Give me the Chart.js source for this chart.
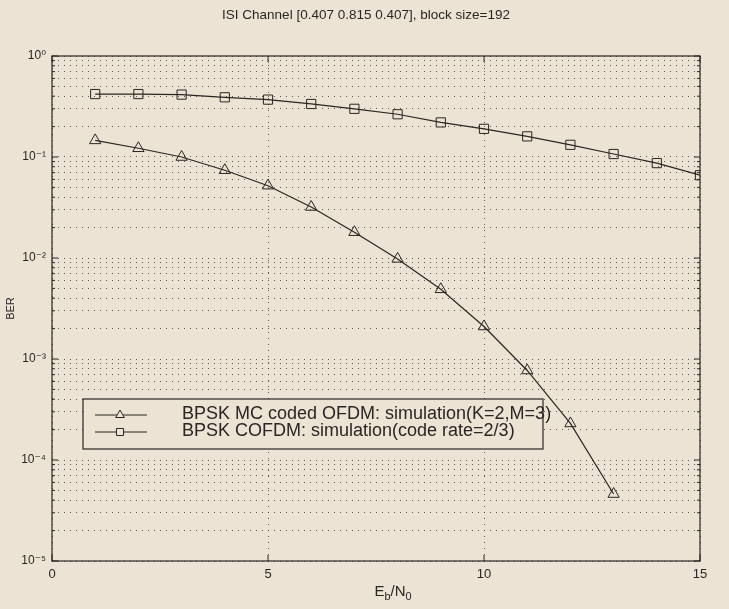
<!DOCTYPE html>
<html>
<head>
<meta charset="utf-8">
<script src="https://cdn.jsdelivr.net/npm/chart.js@4/dist/chart.umd.min.js"></script>
<style>
  html, body { margin: 0; padding: 0; background: #ece3d5; }
  #graph { display: block; }
</style>
</head>
<body>
<canvas id="graph" width="729" height="609"></canvas>
<script>
// values
const ebnoMc = [1, 2, 3, 4, 5, 6, 7, 8, 9, 10, 11, 12, 13];
const berMc = [0.146, 0.122, 0.1, 0.074, 0.052, 0.032, 0.018, 0.0098, 0.0049, 0.0021, 0.00077, 0.00023, 0.000046];

const ebnoCofdm = [1, 2, 3, 4, 5, 6, 7, 8, 9, 10, 11, 12, 13, 14, 15];
const berCofdm = [0.42, 0.42, 0.415, 0.39, 0.37, 0.335, 0.3, 0.265, 0.22, 0.19, 0.16, 0.132, 0.107, 0.087, 0.066];

const xTicks = [0, 5, 10, 15];
const yDecades = [0, -1, -2, -3, -4, -5];
const yMinorMantissas = [2, 3, 4, 5, 6, 7, 8, 9];

const labelMc = "BPSK MC coded OFDM: simulation(K=2,M=3)";
const labelCofdm = "BPSK COFDM: simulation(code rate=2/3)";
const titleText = "ISI Channel [0.407 0.815 0.407], block size=192";

const ink = "#2a2623";
const paper = "#ece3d5";
const dots = "rgba(60,55,50,0.8)";
const FONT = "'Liberation Sans', Arial, 'DejaVu Sans', sans-serif";

const sup = { "0": "\u2070", "1": "\u00b9", "2": "\u00b2", "3": "\u00b3", "4": "\u2074", "5": "\u2075", "-": "\u207b" };
function powLabel(e) {
    return "10" + String(e).split("").map(c => sup[c]).join("");
}

const paperPlugin = {
    id: "paper",
    beforeDraw(chart) {
        const ctx = chart.ctx;
        ctx.save();
        ctx.fillStyle = paper;
        ctx.fillRect(0, 0, chart.width, chart.height);
        ctx.restore();
    }
};

// box around the axes plus matlab-style inward ticks, title and the x label with subscripts
const framePlugin = {
    id: "frame",
    afterDraw(chart) {
        const { ctx, chartArea: a, scales } = chart;
        ctx.save();
        ctx.strokeStyle = ink;
        ctx.lineWidth = 1.2;
        ctx.strokeRect(a.left, a.top, a.right - a.left, a.bottom - a.top);

        ctx.lineWidth = 1;
        ctx.beginPath();
        xTicks.forEach(v => {
            const px = scales.x.getPixelForValue(v);
            ctx.moveTo(px, a.bottom); ctx.lineTo(px, a.bottom - 6);
            ctx.moveTo(px, a.top); ctx.lineTo(px, a.top + 6);
        });
        yDecades.forEach(e => {
            const py = scales.y.getPixelForValue(Math.pow(10, e));
            ctx.moveTo(a.left, py); ctx.lineTo(a.left + 6, py);
            ctx.moveTo(a.right, py); ctx.lineTo(a.right - 6, py);
            if (e > -5) {
                yMinorMantissas.forEach(m => {
                    const pm = scales.y.getPixelForValue(m * Math.pow(10, e - 1));
                    ctx.moveTo(a.left, pm); ctx.lineTo(a.left + 3, pm);
                    ctx.moveTo(a.right, pm); ctx.lineTo(a.right - 3, pm);
                });
            }
        });
        ctx.stroke();

        ctx.fillStyle = ink;
        ctx.textAlign = "center";
        ctx.textBaseline = "middle";
        ctx.font = "13.5px " + FONT;
        ctx.fillText(titleText, 366, 15);

        // E_b/N_0
        const cx = 393;
        const cy = a.bottom + 35;
        const big = "15px " + FONT, small = "11px " + FONT;
        ctx.textBaseline = "alphabetic";
        ctx.textAlign = "left";
        const parts = [["E", big, 0], ["b", small, 4], ["/N", big, 0], ["0", small, 4]];
        let w = 0;
        parts.forEach(p => { ctx.font = p[1]; w += ctx.measureText(p[0]).width; });
        let x = cx - w / 2;
        parts.forEach(p => {
            ctx.font = p[1];
            ctx.fillText(p[0], x, cy + p[2]);
            x += ctx.measureText(p[0]).width;
        });
        ctx.restore();
    }
};

// legend drawn inside the axes like the matlab one
const legendPlugin = {
    id: "boxLegend",
    afterDatasetsDraw(chart) {
        const { ctx, chartArea: a } = chart;
        const left = a.left + 31, top = 399, width = 460, height = 50;
        ctx.save();
        ctx.fillStyle = paper;
        ctx.fillRect(left, top, width, height);
        ctx.strokeStyle = ink;
        ctx.lineWidth = 1.2;
        ctx.strokeRect(left, top, width, height);

        chart.data.datasets.forEach((ds, i) => {
            const y = top + 15 + i * 17;
            ctx.strokeStyle = ink;
            ctx.lineWidth = 1;
            ctx.beginPath();
            ctx.moveTo(left + 12, y + 1);
            ctx.lineTo(left + 64, y + 1);
            ctx.stroke();
            ctx.fillStyle = paper;
            Chart.helpers.drawPoint(ctx, {
                pointStyle: ds.pointStyle, radius: 5, borderWidth: 1
            }, left + 37, y + 1);
            ctx.fillStyle = ink;
            ctx.font = "18px " + FONT;
            ctx.textBaseline = "middle";
            ctx.textAlign = "left";
            ctx.fillText(ds.label, left + 99, y);
        });
        ctx.restore();
    }
};

const chartEl = document.querySelector("#graph").getContext("2d");

const options = {
    type: "line",
    data: {
        datasets: [
            {
                label: labelMc,
                data: ebnoMc.map((x, i) => ({ x: x, y: berMc[i] })),
                borderColor: ink,
                borderWidth: 1.2,
                pointStyle: "triangle",
                pointRadius: 6.5,
                pointBorderWidth: 1,
                pointBorderColor: ink,
                pointBackgroundColor: "rgba(0,0,0,0)",
                tension: 0
            },
            {
                label: labelCofdm,
                data: ebnoCofdm.map((x, i) => ({ x: x, y: berCofdm[i] })),
                borderColor: ink,
                borderWidth: 1.2,
                pointStyle: "rect",
                pointRadius: 6.5,
                pointBorderWidth: 1,
                pointBorderColor: ink,
                pointBackgroundColor: "rgba(0,0,0,0)",
                tension: 0
            }
        ]
    },
    options: {
        responsive: false,
        animation: false,
        layout: { padding: { left: 0, right: 29, top: 56, bottom: 0 } },
        plugins: {
            legend: { display: false },
            tooltip: { enabled: false },
            title: { display: false }
        },
        scales: {
            x: {
                type: "linear",
                min: 0,
                max: 15,
                afterBuildTicks: scale => { scale.ticks = xTicks.map(v => ({ value: v })); },
                afterFit: scale => { scale.height = 48; },
                ticks: { color: ink, font: { family: FONT, size: 13 }, padding: 6 },
                grid: { color: dots, lineWidth: 1, drawTicks: false },
                border: { display: false, dash: [1, 5] }
            },
            y: {
                type: "logarithmic",
                min: 1e-5,
                max: 1,
                afterBuildTicks: scale => {
                    const t = [];
                    yDecades.forEach(e => {
                        t.push({ value: Math.pow(10, e) });
                        if (e > -5) yMinorMantissas.forEach(m => t.push({ value: m * Math.pow(10, e - 1) }));
                    });
                    scale.ticks = t;
                },
                afterFit: scale => { scale.width = 52; },
                ticks: {
                    color: ink,
                    font: { family: FONT, size: 12 },
                    padding: 6,
                    autoSkip: false,
                    callback: v => {
                        const e = Math.log10(v);
                        return Math.abs(e - Math.round(e)) < 1e-9 ? powLabel(Math.round(e)) : "";
                    }
                },
                title: {
                    display: true,
                    text: "BER",
                    color: ink,
                    font: { family: FONT, size: 11 },
                    padding: { top: 4, bottom: 0 }
                },
                grid: { color: dots, lineWidth: 1, drawTicks: false },
                border: { display: false, dash: [1, 5] }
            }
        }
    },
    plugins: [paperPlugin, framePlugin, legendPlugin]
};

// eslint-disable-next-line no-unused-vars
let chart = new Chart(chartEl, options);
</script>
</body>
</html>
